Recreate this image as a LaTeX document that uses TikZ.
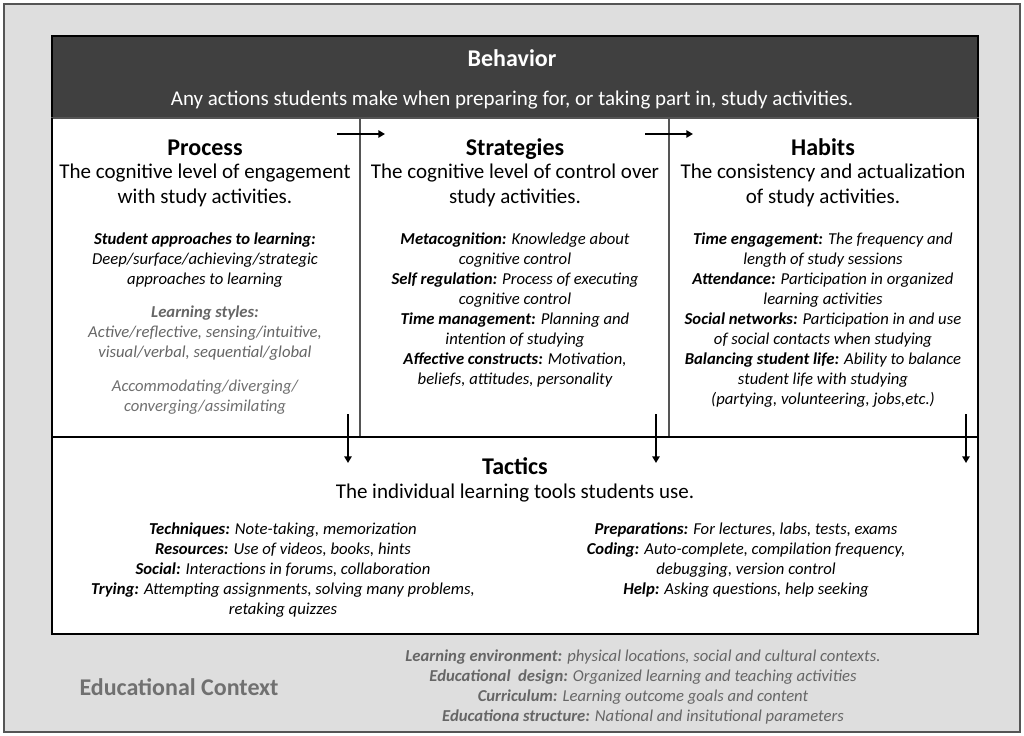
\documentclass[tikz,border=0pt]{standalone}
\usepackage{fontspec}
\setmainfont{Carlito}
\usetikzlibrary{arrows.meta}
\definecolor{ctxgray}{HTML}{DEDEDE}
\definecolor{headdark}{HTML}{404040}
\definecolor{divgray}{HTML}{555555}
\definecolor{softtext}{HTML}{666666}
\definecolor{lighttext}{HTML}{707070}
\tikzset{
  panel/.style={draw=black, line width=1.1pt, fill=white, inner sep=0pt, outer sep=0pt, anchor=north west},
  column/.style={draw=divgray, line width=1pt, inner sep=0pt, outer sep=0pt, anchor=north west,
                 minimum height=239.25pt},
  heading/.style={font=\fontsize{18}{21}\selectfont\bfseries, inner sep=0pt, anchor=base},
  subtitle/.style={font=\fontsize{15.75}{18.75}\selectfont, align=center, inner sep=0pt},
  body/.style={font=\fontsize{12.5}{15}\selectfont\itshape, align=center, inner sep=0pt},
  ctxbody/.style={font=\fontsize{12.5}{14.8}\selectfont\itshape, align=center, inner sep=0pt, text=softtext},
  flow/.style={line width=1.6pt, -{Triangle[width=5.5pt,length=5pt]}}
}
\newcommand{\lbl}[1]{\textbf{#1}}
\begin{document}
\begin{tikzpicture}[x=0.75pt,y=-0.75pt]
  % canvas and educational-context frame
  \useasboundingbox (0,0) rectangle (1024,735);
  \fill[white] (0,0) rectangle (1024,735);
  \draw[fill=ctxgray, draw=divgray, line width=0.8pt] (4,4) rectangle (1020,732);

  % behaviour header
  \node[panel, fill=headdark, minimum width=694.5pt, minimum height=61.5pt] (head) at (52,36) {};
  \node[heading, text=white] (behav) at (512,66.5) {Behavior};
  \node[subtitle, text=white] (behavsub) at (512,100) {Any actions students make when preparing for, or taking part in, study activities.};

  % three columns
  \node[panel, draw=none, minimum width=694.5pt, minimum height=239.25pt] (cols) at (52,118) {};
  \node[column, minimum width=231pt] (proc) at (52,118) {};
  \node[column, minimum width=231.75pt] (strat) at (360,118) {};
  \node[column, minimum width=231.75pt] (habit) at (669,118) {};
  \draw[black, line width=1.1pt] (cols.north west) -- (cols.south west);
  \draw[black, line width=1.1pt] (cols.north east) -- (cols.south east);

  % tactics panel
  \node[panel, minimum width=694.5pt, minimum height=147.75pt] (tact) at (52,437) {};

  % process column
  \node[heading] (procT) at (205,155) {Process};
  \node[subtitle] (procS) at (205,185.5) {The cognitive level of engagement\\with study activities.};
  \node[body] (procA) at (205,260) {\lbl{Student approaches to learning:}\\Deep/surface/achieving/strategic\\approaches to learning};
  \node[body, text=softtext] (procB) at (205,333) {\lbl{Learning styles:}\\Active/reflective, sensing/intuitive,\\visual/verbal, sequential/global};
  \node[body, text=lighttext] (procC) at (205,397) {Accommodating/diverging/\\converging/assimilating};

  % strategies column
  \node[heading] (stratT) at (515,155) {Strategies};
  \node[subtitle] (stratS) at (515,185.5) {The cognitive level of control over\\study activities.};
  \node[body] (stratA) at (515,310) {\lbl{Metacognition:} Knowledge about\\cognitive control\\\lbl{Self regulation:} Process of executing\\cognitive control\\\lbl{Time management:} Planning and\\intention of studying\\\lbl{Affective constructs:} Motivation,\\beliefs, attitudes, personality};

  % habits column
  \node[heading] (habitT) at (823,155) {Habits};
  \node[subtitle] (habitS) at (823,185.5) {The consistency and actualization\\of study activities.};
  \node[body] (habitA) at (823,320) {\lbl{Time engagement:} The frequency and\\length of study sessions\\\lbl{Attendance:} Participation in organized\\learning activities\\\lbl{Social networks:} Participation in and use\\of social contacts when studying\\\lbl{Balancing student life:} Ability to balance\\student life with studying\\(partying, volunteering, jobs,etc.)};

  % tactics content
  \node[heading] (tactT) at (515,474) {Tactics};
  \node[subtitle] (tactS) at (515,493) {The individual learning tools students use.};
  \node[body] (tactL) at (283,570) {\lbl{Techniques:} Note-taking, memorization\\\lbl{Resources:} Use of videos, books, hints\\\lbl{Social:} Interactions in forums, collaboration\\\lbl{Trying:} Attempting assignments, solving many problems,\\retaking quizzes};
  \node[body] (tactR) at (746,560) {\lbl{Preparations:} For lectures, labs, tests, exams\\\lbl{Coding:} Auto-complete, compilation frequency,\\debugging, version control\\\lbl{Help:} Asking questions, help seeking};

  % educational context
  \node[heading, text=lighttext] (ctxT) at (179,695) {Educational Context};
  \node[ctxbody] (ctxA) at (643,687) {\lbl{Learning environment:} physical locations, social and cultural contexts.\\\lbl{Educational\ \ design:} Organized learning and teaching activities\\\lbl{Curriculum:} Learning outcome goals and content\\\lbl{Educationa structure:} National and insitutional parameters};

  % flow arrows
  \coordinate (ps1) at (337,134);
  \coordinate (ps2) at (385,134);
  \coordinate (sh1) at (645,134);
  \coordinate (sh2) at (693,134);
  \coordinate (pt1) at (348,414);
  \coordinate (pt2) at (348,463);
  \coordinate (st1) at (656,414);
  \coordinate (st2) at (656,463);
  \coordinate (ht1) at (966,414);
  \coordinate (ht2) at (966,463);
  \draw[flow] (ps1) -- (ps2);
  \draw[flow] (sh1) -- (sh2);
  \draw[flow] (pt1) -- (pt2);
  \draw[flow] (st1) -- (st2);
  \draw[flow] (ht1) -- (ht2);
\end{tikzpicture}
\end{document}
